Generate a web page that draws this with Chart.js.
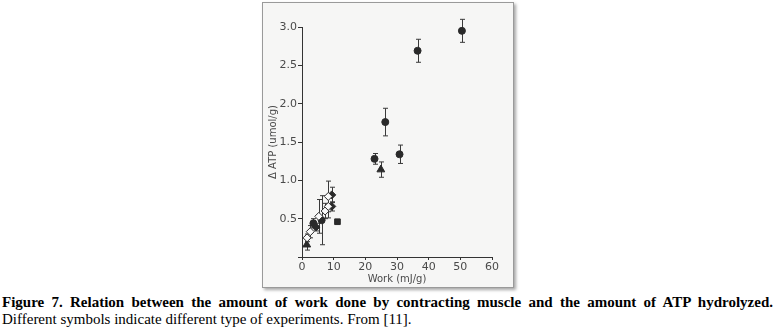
<!DOCTYPE html>
<html>
<head>
<meta charset="utf-8">
<script src="https://cdn.jsdelivr.net/npm/chart.js@4"></script>
<style>
  html, body { margin: 0; padding: 0; background: #fff; width: 775px; height: 335px; overflow: hidden; }
  #frame {
    position: absolute; left: 262px; top: 2px; width: 250px; height: 284px;
    background: #f6f6f5; border: 1px solid #9a9a9a;
    box-shadow: 2px 2px 3px rgba(0,0,0,0.35);
  }
  #frame canvas { position: absolute; left: 0; top: 0; }
  .cap { position: absolute; left: 2px; width: 771px; font-family: "Liberation Serif", "Times New Roman", serif; font-size: 15px; color: #000; white-space: nowrap; }
  #cap1 { top: 294px; font-weight: bold; text-align: justify; text-align-last: justify; }
  #cap2 { top: 311px; }
</style>
</head>
<body>
<div id="frame"><canvas id="c" width="250" height="284"></canvas></div>
<div class="cap" id="cap1">Figure 7. Relation between the amount of work done by contracting muscle and the amount of ATP hydrolyzed.</div>
<div class="cap" id="cap2">Different symbols indicate different type of experiments. From [11].</div>
<script>
// work (mJ/g), ATP (umol/g), error (+/-)
const circleX = [3.6, 6.2, 22.9, 26.3, 30.8, 36.5, 50.5];
const circleY = [0.44, 0.48, 1.28, 1.76, 1.34, 2.69, 2.95];
const circleErr = [0.06, 0.32, 0.07, 0.18, 0.12, 0.15, 0.15];

const triX = [1.5, 24.9];
const triY = [0.16, 1.14];
const triErr = [0.07, 0.1];

const openDiaX = [1.6, 2.6, 5.3, 7.3, 8.3, 8.3];
const openDiaY = [0.25, 0.33, 0.53, 0.6, 0.66, 0.79];
const openDiaErr = [0.05, 0.08, 0.22, 0.1, 0.15, 0.2];

const fillDiaX = [4.4, 9.4, 9.4];
const fillDiaY = [0.39, 0.66, 0.81];
const fillDiaErr = [0.05, 0.06, 0.1];

const squareX = [11.2];
const squareY = [0.46];

const xTicks = [0, 10, 20, 30, 40, 50, 60];
const yTicks = [0.5, 1.0, 1.5, 2.0, 2.5, 3.0];

const INK = '#2a2a2a';
const TEXT = '#4a4a4a';

function pts(xs, ys) { return xs.map((x, i) => ({ x: x, y: ys[i] })); }

// vertical error bars drawn through the chart scales
const errorBars = {
  id: 'errorBars',
  beforeDatasetsDraw(chart) {
    const ctx = chart.ctx, xs = chart.scales.x, ys = chart.scales.y;
    ctx.save();
    ctx.strokeStyle = '#3a3a3a';
    ctx.lineWidth = 1;
    chart.data.datasets.forEach(ds => {
      if (!ds.err) return;
      ds.data.forEach((p, i) => {
        const e = ds.err[i];
        if (!e) return;
        const px = Math.round(xs.getPixelForValue(p.x)) + 0.5;
        const y1 = ys.getPixelForValue(p.y + e), y2 = ys.getPixelForValue(p.y - e);
        ctx.beginPath();
        ctx.moveTo(px, y1); ctx.lineTo(px, y2);
        ctx.moveTo(px - 2.5, y1); ctx.lineTo(px + 2.5, y1);
        ctx.moveTo(px - 2.5, y2); ctx.lineTo(px + 2.5, y2);
        ctx.stroke();
      });
    });
    ctx.restore();
  }
};

new Chart(document.getElementById('c'), {
  type: 'scatter',
  data: {
    datasets: [
      { label: 'open diamonds', data: pts(openDiaX, openDiaY), err: openDiaErr,
        pointStyle: 'rectRot', pointRadius: 4, backgroundColor: '#fafafa', borderColor: INK, borderWidth: 1 },
      { label: 'filled diamonds', data: pts(fillDiaX, fillDiaY), err: fillDiaErr,
        pointStyle: 'rectRot', pointRadius: 4, backgroundColor: INK, borderColor: INK, borderWidth: 1 },
      { label: 'circles', data: pts(circleX, circleY), err: circleErr,
        pointStyle: 'circle', pointRadius: 3.5, backgroundColor: INK, borderColor: INK, borderWidth: 1 },
      { label: 'triangles', data: pts(triX, triY), err: triErr,
        pointStyle: 'triangle', pointRadius: 4.5, backgroundColor: INK, borderColor: INK, borderWidth: 1 },
      { label: 'square', data: pts(squareX, squareY),
        pointStyle: 'rect', pointRadius: 4, backgroundColor: INK, borderColor: INK, borderWidth: 1 }
    ]
  },
  options: {
    responsive: false,
    animation: false,
    layout: { padding: { left: 4, top: 24, right: 21, bottom: 2 } },
    plugins: { legend: { display: false }, tooltip: { enabled: false } },
    scales: {
      x: {
        type: 'linear', min: 0, max: 60,
        afterBuildTicks: s => { s.ticks = xTicks.map(v => ({ value: v })); },
        grid: { drawOnChartArea: false, drawTicks: true, tickLength: 3, color: '#333' },
        border: { display: true, color: '#333', width: 1 },
        ticks: { color: TEXT, font: { family: 'DejaVu Sans', size: 11 }, padding: 1, maxRotation: 0 },
        title: { display: true, text: 'Work (mJ/g)', color: TEXT, font: { family: 'DejaVu Sans', size: 10 }, padding: { top: 0, bottom: 0 } },
        afterFit: s => { s.height = 28; }
      },
      y: {
        type: 'linear', min: 0, max: 3.0,
        afterBuildTicks: s => { s.ticks = [0].concat(yTicks).map(v => ({ value: v })); },
        grid: { drawOnChartArea: false, drawTicks: true, tickLength: 4, color: '#333' },
        border: { display: true, color: '#333', width: 1 },
        ticks: { color: TEXT, font: { family: 'DejaVu Sans', size: 11 }, padding: 1,
          callback: v => v === 0 ? '' : v.toFixed(1) },
        title: { display: true, text: 'Δ ATP (umol/g)', color: TEXT, font: { family: 'DejaVu Sans', size: 10 }, padding: { top: 0, bottom: 2 } },
        afterFit: s => { s.width = 35; }
      }
    }
  },
  plugins: [errorBars]
});
</script>
</body>
</html>
